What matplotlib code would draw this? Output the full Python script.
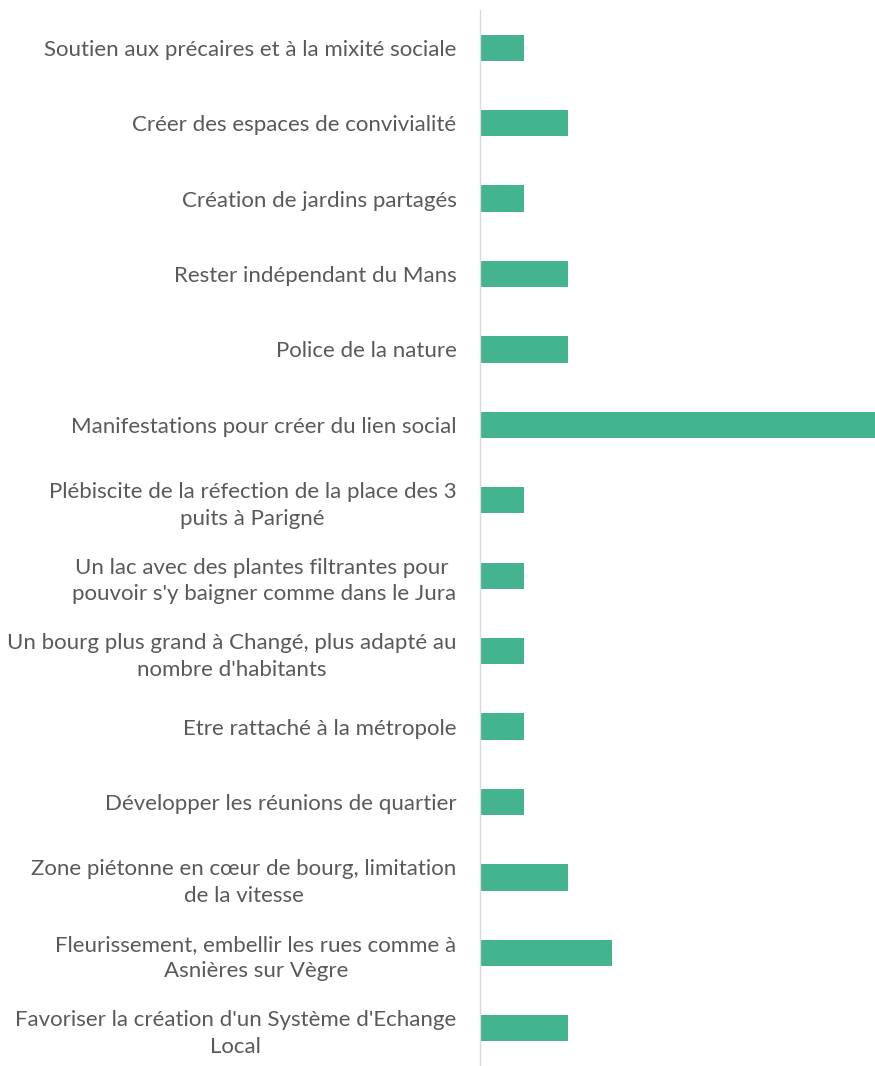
import matplotlib
matplotlib.use("Agg")
import matplotlib.pyplot as plt

categories = [
    "Soutien aux précaires et à la mixité sociale",
    "Créer des espaces de convivialité",
    "Création de jardins partagés",
    "Rester indépendant du Mans",
    "Police de la nature",
    "Manifestations pour créer du lien social",
    "Plébiscite de la réfection de la place des 3\npuits à Parigné",
    "Un lac avec des plantes filtrantes pour \npouvoir s'y baigner comme dans le Jura",
    "Un bourg plus grand à Changé, plus adapté au\nnombre d'habitants",
    "Etre rattaché à la métropole",
    "Développer les réunions de quartier",
    "Zone piétonne en cœur de bourg, limitation\nde la vitesse",
    "Fleurissement, embellir les rues comme à\nAsnières sur Vègre",
    "Favoriser la création d'un Système d'Echange\nLocal",
]
values = [1, 2, 1, 2, 2, 9, 1, 1, 1, 1, 1, 2, 3, 2]

plt.rcParams['font.family'] = ['Lato', 'DejaVu Sans']

fig = plt.figure(figsize=(8.75, 10.66), dpi=100)
ax = fig.add_axes([480/875, 0, 395/875, 1 - 10/1066])

y = list(range(len(categories)))
ax.barh(y, values, height=0.35, color="#44B38F")
ax.set_ylim(len(categories) - 0.5, -0.5)
ax.set_xlim(0, 9)
ax.set_yticks(y)
ax.set_yticklabels(categories, fontsize=16, color="#595959",
                   multialignment="center", linespacing=1.4)
ax.tick_params(axis="y", length=0, pad=17)
ax.set_xticks([])
for s in ["top", "right", "bottom"]:
    ax.spines[s].set_visible(False)
ax.spines["left"].set_color("#D9D9D9")
ax.spines["left"].set_linewidth(1.0)

fig.savefig("out.png", dpi=100)
